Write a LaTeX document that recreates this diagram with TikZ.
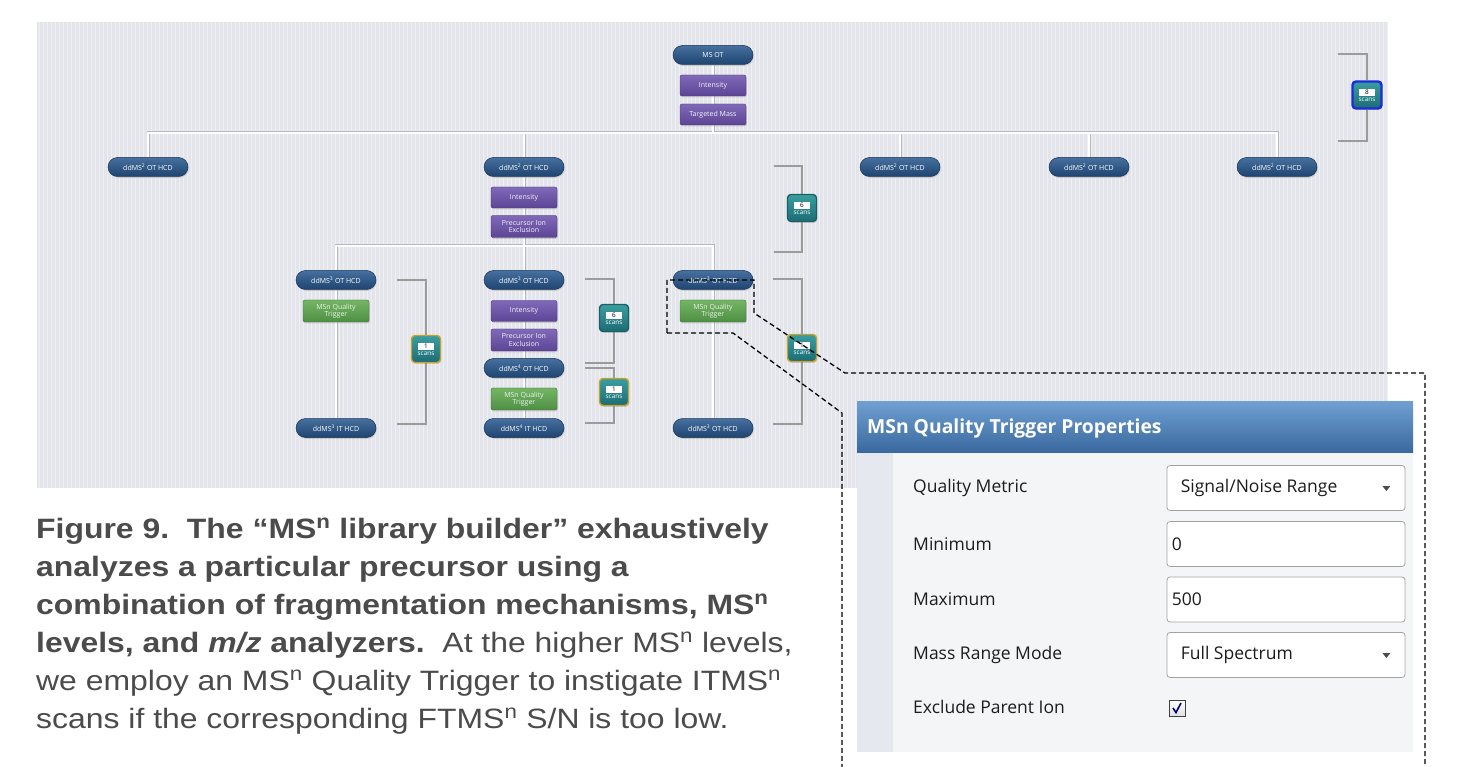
\documentclass[tikz,border=0pt]{standalone}
\usepackage{fontspec}
\usetikzlibrary{calc,shadows}
\newfontfamily\capfont[FakeStretch=1.14]{Liberation Sans}
\newfontfamily\uifont{Open Sans}
\definecolor{panel}{HTML}{E3E5EB}
\definecolor{pillT}{HTML}{46709F}
\definecolor{pillB}{HTML}{1F4470}
\definecolor{pillD}{HTML}{1A3556}
\definecolor{purpT}{HTML}{8069B8}
\definecolor{purpB}{HTML}{5B4594}
\definecolor{grnT}{HTML}{74B565}
\definecolor{grnB}{HTML}{4F8F44}
\definecolor{tealT}{HTML}{3A9EA0}
\definecolor{tealB}{HTML}{1C6C74}
\definecolor{treeline}{HTML}{B5B9C3}
\definecolor{brkline}{HTML}{9B9B9B}
\definecolor{captxt}{HTML}{4B4B4B}
\definecolor{hdrT}{HTML}{6E9FD0}
\definecolor{hdrB}{HTML}{3A69A0}
\definecolor{dlgbody}{HTML}{F4F5F7}
\definecolor{dlgstrip}{HTML}{E5E8EF}
\definecolor{dlgtxt}{HTML}{1C1C1C}
\definecolor{fieldline}{HTML}{A3A3A3}
\definecolor{yelbrd}{HTML}{C9A227}
\definecolor{bluebrd}{HTML}{1A2BE0}
\definecolor{tealbrd}{HTML}{1E5F66}
\newcommand\ndfont{\uifont\fontsize{7}{7.6}\selectfont}
\newcommand\bdgfont{\uifont\fontsize{6.4}{6.8}\selectfont}
\newcommand\badgetext[1]{{\setlength{\fboxsep}{1pt}\colorbox{white}{\makebox[14pt]{\color{black}#1}}}\\[-0.3pt]scans}
\pgfdeclarelayer{back}
\pgfdeclarelayer{lines}
\pgfdeclarelayer{front}
\pgfsetlayers{back,lines,main,front}
\begin{document}
\begin{tikzpicture}[x=1pt,y=-1pt,
  shad/.style={drop shadow={shadow xshift=0.8pt,shadow yshift=-1.3pt,opacity=0.3}},
  pill/.style={shad,rounded corners=9.5,minimum width=80,minimum height=19,inner sep=0,
    top color=pillT,bottom color=pillB,draw=pillD,line width=0.5,text=white,font=\ndfont},
  purp/.style={shad,rounded corners=2,minimum width=66,minimum height=21,inner sep=0,
    top color=purpT,bottom color=purpB,draw=purpB!80!black,line width=0.4,text=white!92!purpT,
    font=\ndfont,align=center},
  grn/.style={shad,rounded corners=2,minimum width=66,minimum height=22,inner sep=0,
    top color=grnT,bottom color=grnB,draw=grnB!80!black,line width=0.4,text=white!85!grnT,
    font=\ndfont,align=center},
  badge/.style={shad,rounded corners=3.5,minimum width=29,minimum height=27,inner sep=0.5,
    top color=tealT,bottom color=tealB,line width=1.4,text=white,font=\bdgfont,align=center},
  tree/.style={draw=treeline,double=white,double distance=1.8pt,line width=0.6pt},
  brk/.style={draw=brkline,line width=1.8},
  callout/.style={draw=black,dashed,dash pattern=on 5pt off 3pt,line width=1.3},
  field/.style={draw=fieldline,fill=white,rounded corners=3,minimum width=238,minimum height=45,
    inner sep=0,line width=0.8},
  dlab/.style={anchor=west,inner sep=0,text=dlgtxt,font=\uifont\fontsize{17.5}{19}\selectfont},
  capline/.style={anchor=base west,inner sep=0,text=captxt,font=\capfont\fontsize{28}{34}\selectfont}
]
\useasboundingbox (0,0) rectangle (1460,767);
% striped panel
\begin{pgfonlayer}{back}
\fill[white] (0,0) rectangle (1460,767);
\fill[panel] (37,22) rectangle (1388,488);
\foreach \i in {0,...,337}
  \draw[white,opacity=0.45,line width=0.8] ({39+4*\i},22) -- ({39+4*\i},488);
\end{pgfonlayer}

% ---- tree nodes
\node[pill] (msot) at (713,55) {MS OT};
\node[purp] (int0) at (713,85.5) {Intensity};
\node[purp] (tm0) at (713,114.5) {Targeted Mass};
\coordinate (bus1) at (713,133);
\node[pill] (a2) at (148,167) {ddMS\textsuperscript{2} OT HCD};
\node[pill] (b2) at (524,167) {ddMS\textsuperscript{2} OT HCD};
\node[pill] (c2) at (900,167) {ddMS\textsuperscript{2} OT HCD};
\node[pill] (d2) at (1089,167) {ddMS\textsuperscript{2} OT HCD};
\node[pill] (e2) at (1277,167) {ddMS\textsuperscript{2} OT HCD};
\node[purp] (int1) at (524,197.5) {Intensity};
\node[purp,minimum height=22] (pie1) at (524,226.5) {Precursor Ion\\Exclusion};
\coordinate (bus2) at (524,246);
\node[pill] (a3) at (336,280) {ddMS\textsuperscript{3} OT HCD};
\node[grn] (qa) at (336,311) {MSn Quality\\Trigger};
\node[pill] (a3it) at (336,428) {ddMS\textsuperscript{3} IT HCD};
\node[pill] (b3) at (524,280) {ddMS\textsuperscript{3} OT HCD};
\node[purp] (int2) at (524,311) {Intensity};
\node[purp,minimum height=22] (pie2) at (524,340) {Precursor Ion\\Exclusion};
\node[pill] (b4) at (524,368) {ddMS\textsuperscript{4} OT HCD};
\node[grn] (qb) at (524,399) {MSn Quality\\Trigger};
\node[pill] (b4it) at (524,428) {ddMS\textsuperscript{4} IT HCD};
\node[pill] (c3) at (713,280) {ddMS\textsuperscript{3} OT HCD};
\node[grn] (qc) at (713,311) {MSn Quality\\Trigger};
\node[pill] (c3b) at (713,428) {ddMS\textsuperscript{3} OT HCD};

% ---- badges
\node[badge,draw=bluebrd,line width=2.4] (s8) at (1367,95) {\badgetext{8}};
\node[badge,draw=tealbrd] (s6a) at (802,208) {\badgetext{6}};
\node[badge,draw=yelbrd] (s1a) at (426,349) {\badgetext{1}};
\node[badge,draw=tealbrd] (s6b) at (614,318) {\badgetext{6}};
\node[badge,draw=yelbrd] (s1b) at (614,392) {\badgetext{1}};
\node[badge,draw=yelbrd] (s1c) at (802,348) {\badgetext{1}};

\coordinate (k8a) at (1338,54);  \coordinate (k8b) at (1338,141);
\coordinate (k6aa) at (774,166); \coordinate (k6ab) at (774,252);
\coordinate (k1aa) at (397,280); \coordinate (k1ab) at (397,424);
\coordinate (k6ba) at (585,279); \coordinate (k6bb) at (585,363);
\coordinate (k1ba) at (585,368); \coordinate (k1bb) at (585,423);
\coordinate (k1ca) at (773,279); \coordinate (k1cb) at (773,424);

\begin{pgfonlayer}{lines}
\draw[tree] (msot) -- (bus1)
  (bus1) -| (a2) (bus1) -| (b2) (bus1) -| (c2) (bus1) -| (d2) (bus1) -| (e2)
  (b2) -- (bus2) (bus2) -| (a3) (bus2) -- (b3) (bus2) -| (c3)
  (a3) -- (a3it) (b3) -- (b4it) (c3) -- (c3b);
\draw[brk] (k8a) -| (s8.north) (k8b) -| (s8.south);
\draw[brk] (k6aa) -| (s6a.north) (k6ab) -| (s6a.south);
\draw[brk] (k1aa) -| (s1a.north) (k1ab) -| (s1a.south);
\draw[brk] (k6ba) -| (s6b.north) (k6bb) -| (s6b.south);
\draw[brk] (k1ba) -| (s1b.north) (k1bb) -| (s1b.south);
\draw[brk] (k1ca) -| (s1c.north) (k1cb) -| (s1c.south);
\end{pgfonlayer}

% ---- dialog
\fill[dlgbody] (857,452) rectangle (1413,752);
\fill[dlgstrip] (857,452) rectangle (893,752);
\shade[top color=hdrT,bottom color=hdrB] (857,402) rectangle (1413,452);
\node[anchor=west,inner sep=0,text=white,font=\uifont\bfseries\fontsize{19.3}{21}\selectfont] (title) at (867,428) {MSn Quality Trigger Properties};
\node[dlab] (l1) at (913,488) {Quality Metric};
\node[dlab] (l2) at (913,544) {Minimum};
\node[dlab] (l3) at (913,599) {Maximum};
\node[dlab] (l4) at (913,655) {Mass Range Mode};
\node[dlab] (l5) at (913,707) {Exclude Parent Ion};
\node[field] (f1) at (1286,488) {};
\node[field] (f2) at (1286,544) {};
\node[field] (f3) at (1286,599.5) {};
\node[field] (f4) at (1286,655) {};
\node[dlab] (v1) at ($(f1.west)+(14,0)$) {Signal/Noise Range};
\node[dlab] (v2) at ($(f2.west)+(5,0)$) {0};
\node[dlab] (v3) at ($(f3.west)+(5,0)$) {500};
\node[dlab] (v4) at ($(f4.west)+(14,0)$) {Full Spectrum};
\fill[black!70] ($(f1.east)+(-23,-2)$) -- ++(8,0) -- ++(-4,5) -- cycle;
\fill[black!70] ($(f4.east)+(-23,-2)$) -- ++(8,0) -- ++(-4,5) -- cycle;
\node[draw=black!75,line width=0.9,top color=white,bottom color=black!12,minimum size=16,inner sep=0] (cb) at (1177,708) {};
\draw[draw=blue!45!black,line width=1.6] ($(cb.center)+(-4,0)$) -- ($(cb.center)+(-1,4.5)$) -- ($(cb.center)+(4,-5)$);

% ---- caption
\node[capline] (cap1) at (36,538) {\bfseries Figure 9.\ \ The “MS\textsuperscript{n} library builder” exhaustively};
\node[capline] (cap2) at (36,576) {\bfseries analyzes a particular precursor using a};
\node[capline] (cap3) at (36,614) {\bfseries combination of fragmentation mechanisms, MS\textsuperscript{n}};
\node[capline] (cap4) at (36,652) {\textbf{levels, and \textit{m/z} analyzers.}\ \ At the higher MS\textsuperscript{n} levels,};
\node[capline] (cap5) at (36,690) {we employ an MS\textsuperscript{n} Quality Trigger to instigate ITMS\textsuperscript{n}};
\node[capline] (cap6) at (36,728) {scans if the corresponding FTMS\textsuperscript{n} S/N is too low.};

% ---- callout
\begin{pgfonlayer}{front}
\draw[callout] (667,333) -- (667,280) -- (754,280) -- (754,313) -- (845,373) -- (1425,373) -- (1425,767);
\draw[callout] (667,333) -- (733,333) -- (842,413) -- (842,767);
\end{pgfonlayer}
\end{tikzpicture}
\end{document}
